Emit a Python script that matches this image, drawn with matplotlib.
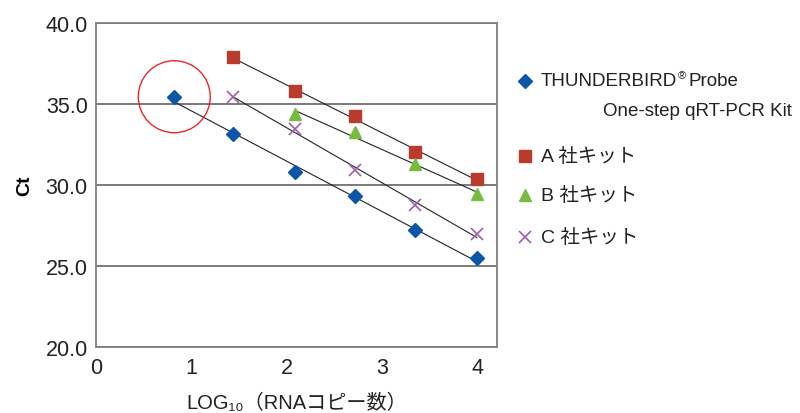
import numpy as np
import matplotlib
matplotlib.use("Agg")
import matplotlib.pyplot as plt
from matplotlib.patches import Ellipse

plt.rcParams['font.family'] = ['Liberation Sans', 'Noto Sans CJK JP', 'DejaVu Sans']

# log10 copy numbers
x_tb = [0.82, 1.43, 2.08, 2.71, 3.34, 3.99]
x_kit = [1.43, 2.08, 2.71, 3.34, 3.99]
x_b = [2.08, 2.71, 3.34, 3.99]

# Ct values
ct_tb = [35.45, 33.15, 30.8, 29.3, 27.2, 25.5]
ct_a = [37.9, 35.8, 34.25, 32.05, 30.35]
ct_b = [34.4, 33.25, 31.3, 29.45]
ct_c = [35.45, 33.45, 30.95, 28.75, 26.95]

series = [
    (x_tb, ct_tb, '#0b56a6', 'D', 7, 'THUNDERBIRD'),
    (x_kit, ct_a, '#b93b2e', 's', 9, 'A 社キット'),
    (x_b, ct_b, '#77bc3f', '^', 9, 'B 社キット'),
    (x_kit, ct_c, '#9c5fb0', 'x', 9, 'C 社キット'),
]

fig = plt.figure(figsize=(8, 4.14), dpi=100)
ax = fig.add_axes([0.12, 0.1594, 0.50125, 0.7826])

for xs, ys, col, mk, ms, lab in series:
    k, b = np.polyfit(xs, ys, 1)
    xx = np.array([xs[0], xs[-1]])
    ax.plot(xx, k * xx + b, color='#222222', lw=0.8, zorder=2)
    if mk == 'x':
        ax.plot(xs, ys, ls='none', marker=mk, color=col, ms=ms, mew=1.2, zorder=3)
    else:
        ax.plot(xs, ys, ls='none', marker=mk, color=col, ms=ms, mec=col, zorder=3)

# red circle around the first THUNDERBIRD point
ax.add_patch(Ellipse((x_tb[0], ct_tb[0]), 72 / 95.5, 72 / 16.2, fill=False,
                     ec='#e8262b', lw=1.0, zorder=4))

ax.set_xlim(0, 4.2)
ax.set_ylim(20, 40)
ax.set_xticks([0, 1, 2, 3, 4])
ax.set_yticks([20, 25, 30, 35, 40])
ax.set_yticklabels(['20.0', '25.0', '30.0', '35.0', '40.0'])
ax.tick_params(length=0, labelsize=15.5, colors='#222222')
ax.tick_params(axis='x', pad=7)
ax.tick_params(axis='y', pad=6)
ax.yaxis.grid(True, color='#707070', lw=1.3)
ax.set_axisbelow(True)
for s in ax.spines.values():
    s.set_color('#808080')
    s.set_linewidth(1.3)

ax.set_ylabel('Ct', fontsize=14, fontweight='bold', labelpad=9)
ax.set_xlabel('LOG₁₀（RNAコピー数）', fontsize=14.5, color='#222222', labelpad=11)

# legend drawn by hand to keep the two-line first entry
lg = fig.add_axes([0, 0, 1, 1], facecolor='none')
lg.set_xlim(0, 800)
lg.set_ylim(414, 0)
lg.axis('off')
leg_y = [82, 157, 196, 238]
for (xs, ys, col, mk, ms, lab), yy in zip(series, leg_y):
    if mk == 'x':
        lg.plot([525], [yy], marker=mk, color=col, ms=ms, mew=1.2)
    else:
        lg.plot([525], [yy], marker=mk, color=col, ms=ms, mec=col)
    t = lg.text(541, yy, lab, fontsize=14 if mk != 'D' else 13.5, va='center',
                ha='left', color='#222222')
    if mk == 'D':
        r = fig.canvas.get_renderer()
        bb = t.get_window_extent(r)
        x_end = lg.transData.inverted().transform((bb.x1, bb.y0))[0]
        lg.text(x_end + 0.5, yy - 6, '®', fontsize=8, va='center', ha='left',
                color='#222222')
        lg.text(x_end + 11, yy, 'Probe', fontsize=13.5, va='center', ha='left',
                color='#222222')
lg.text(603, 112, 'One-step qRT-PCR Kit', fontsize=13.5, va='center', ha='left',
        color='#222222')

fig.savefig('out.png', dpi=100)
